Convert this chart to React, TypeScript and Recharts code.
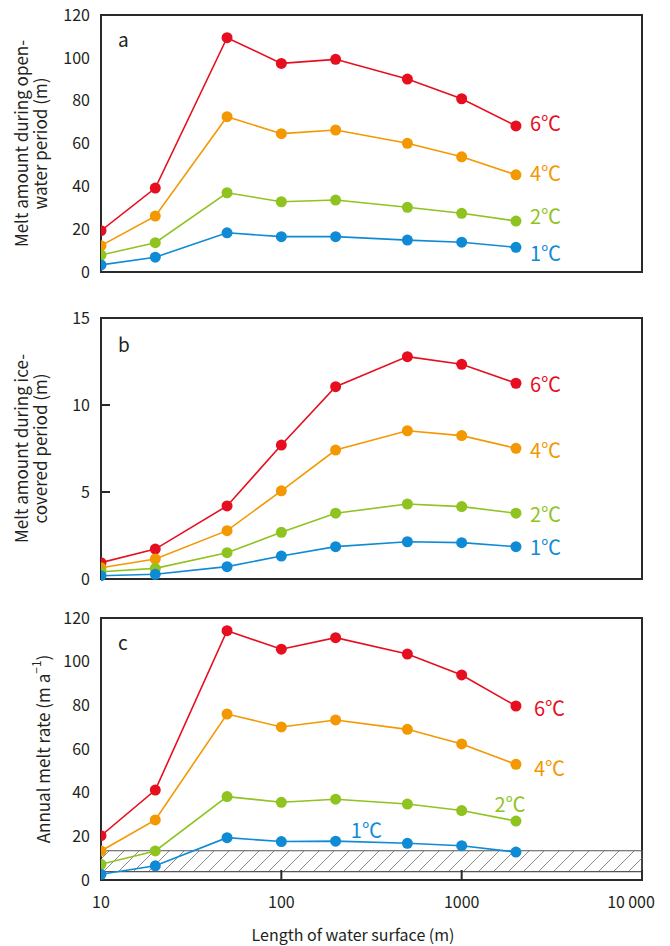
import React from 'react';
import { LineChart, Line, XAxis, YAxis, ReferenceArea, LabelList } from 'recharts';

// ---------- data ----------
const lengths = [10, 20, 50, 100, 200, 500, 1000, 2000];
const xTicks = [10, 100, 1000, 10000];
const xTickLabels = ['10', '100', '1000', '10\u2009000'];
const seriesKeys = ['t6', 't4', 't2', 't1'];
const seriesNames = ['6\u2103', '4\u2103', '2\u2103', '1\u2103'];
const seriesColors = ['#e60f1f', '#f39800', '#8fc31f', '#0f8bd6'];

// (a) melt amount during open-water period (m)
const openWater6 = [19.3, 39.2, 109.4, 97.4, 99.3, 90.1, 80.9, 68.2];
const openWater4 = [12.3, 26.1, 72.5, 64.6, 66.3, 60.1, 53.8, 45.4];
const openWater2 = [7.9, 13.7, 37.0, 32.8, 33.6, 30.2, 27.4, 23.8];
const openWater1 = [3.3, 6.9, 18.3, 16.5, 16.5, 14.9, 13.9, 11.5];

// (b) melt amount during ice-covered period (m)
const iceCovered6 = [0.94, 1.72, 4.2, 7.7, 11.05, 12.78, 12.34, 11.25];
const iceCovered4 = [0.65, 1.15, 2.78, 5.07, 7.41, 8.52, 8.24, 7.51];
const iceCovered2 = [0.42, 0.61, 1.51, 2.68, 3.78, 4.31, 4.16, 3.78];
const iceCovered1 = [0.19, 0.27, 0.71, 1.32, 1.86, 2.14, 2.09, 1.86];

// (c) annual melt rate (m a-1)
const annual6 = [20.3, 41.2, 114.2, 105.7, 111.0, 103.5, 93.9, 79.7];
const annual4 = [13.3, 27.5, 76.0, 70.1, 73.3, 69.0, 62.3, 53.0];
const annual2 = [7.2, 13.3, 38.2, 35.6, 37.0, 34.8, 31.8, 27.0];
const annual1 = [2.6, 6.5, 19.4, 17.6, 17.8, 16.8, 15.7, 12.8];

// hatched band in (c)
const bandLow = 3.8;
const bandHigh = 13.4;

const yTicksA = [0, 20, 40, 60, 80, 100, 120];
const yTicksB = [0, 5, 10, 15];
const yTicksC = [0, 20, 40, 60, 80, 100, 120];

const buildRows = (s6: number[], s4: number[], s2: number[], s1: number[]) =>
  lengths.map((x, i) => ({ x, t6: s6[i], t4: s4[i], t2: s2[i], t1: s1[i] }));

const dataA = buildRows(openWater6, openWater4, openWater2, openWater1);
const dataB = buildRows(iceCovered6, iceCovered4, iceCovered2, iceCovered1);
const dataC = buildRows(annual6, annual4, annual2, annual1);

// ---------- styles ----------
const FONT = '"Noto Sans CJK JP", "Noto Sans", sans-serif';
const INK = '#231f20';
const AXIS = '#2a2a2a';
const W = 670;

type LabelSpec = { index: number; dx: number; dy: number; anchor: string };

const specsA: LabelSpec[] = [
  { index: 7, dx: 14, dy: -3, anchor: 'start' },
  { index: 7, dx: 14, dy: -2, anchor: 'start' },
  { index: 7, dx: 14, dy: -6, anchor: 'start' },
  { index: 7, dx: 14, dy: 5, anchor: 'start' },
];
const specsB: LabelSpec[] = [
  { index: 7, dx: 14, dy: 0, anchor: 'start' },
  { index: 7, dx: 14, dy: 1, anchor: 'start' },
  { index: 7, dx: 14, dy: 0, anchor: 'start' },
  { index: 7, dx: 14, dy: 0, anchor: 'start' },
];
const specsC: LabelSpec[] = [
  { index: 7, dx: 18, dy: 2, anchor: 'start' },
  { index: 7, dx: 18, dy: 3, anchor: 'start' },
  { index: 7, dx: -6, dy: -18, anchor: 'middle' },
  { index: 5, dx: -41, dy: -14, anchor: 'middle' },
];

const makeSeriesLabel = (name: string, color: string, spec: LabelSpec) => (p: any) => {
  if (p.index !== spec.index) return null;
  return (
    <text
      x={Number(p.x) + spec.dx}
      y={Number(p.y) + spec.dy}
      textAnchor={spec.anchor as any}
      dominantBaseline="central"
      fill={color}
      fontSize={20}
      fontFamily={FONT}
    >
      {name}
    </text>
  );
};

const makeYTitle = (lines: string[], xs: number[]) => (p: any) => {
  const vb = p.viewBox || {};
  const cy = vb.y + vb.height / 2;
  return (
    <g>
      {lines.map((l, i) => (
        <text
          key={i}
          x={xs[i]}
          y={cy}
          transform={`rotate(-90 ${xs[i]} ${cy})`}
          textAnchor="middle"
          dominantBaseline="central"
          fontSize={17}
          fill={INK}
          fontFamily={FONT}
        >
          {l}
        </text>
      ))}
    </g>
  );
};

const yTitleC = (p: any) => {
  const vb = p.viewBox || {};
  const cy = vb.y + vb.height / 2;
  const x = 42;
  return (
    <text
      x={x}
      y={cy}
      transform={`rotate(-90 ${x} ${cy})`}
      textAnchor="middle"
      dominantBaseline="central"
      fontSize={17}
      fill={INK}
      fontFamily={FONT}
    >
      Annual melt rate (m a
      <tspan dy={-7} fontSize={12}>{'\u22121'}</tspan>
      <tspan dy={7}>)</tspan>
    </text>
  );
};

const makeLetter = (letter: string, dx: number, dy: number) => (p: any) => {
  const vb = p.viewBox || {};
  return (
    <text x={vb.x + dx} y={vb.y + dy} fontSize={19} fill={INK} fontFamily={FONT}>
      {letter}
    </text>
  );
};

const XTick = (p: any) => {
  const v = p.payload ? p.payload.value : 0;
  const i = xTicks.indexOf(v);
  const shift = i === 3 ? -11 : 0;
  return (
    <text
      x={p.x + shift}
      y={p.y}
      dy="0.71em"
      textAnchor="middle"
      fontSize={16}
      fill={INK}
      fontFamily={FONT}
    >
      {i >= 0 ? xTickLabels[i] : ''}
    </text>
  );
};

const xTitle = (p: any) => {
  const vb = p.viewBox || {};
  return (
    <text
      x={353}
      y={vb.y + 61}
      textAnchor="middle"
      fontSize={16}
      fill={INK}
      fontFamily={FONT}
    >
      Length of water surface (m)
    </text>
  );
};

type PanelProps = {
  data: any[];
  height: number;
  top: number;
  marginTop: number;
  marginBottom: number;
  yMax: number;
  yTicks: number[];
  yTickInward: boolean;
  yTitle: (p: any) => any;
  letter: string;
  letterDy: number;
  specs: LabelSpec[];
  showXLabels: boolean;
  band?: boolean;
};

function Panel(props: PanelProps) {
  const {
    data, height, top, marginTop, marginBottom, yMax, yTicks, yTickInward,
    yTitle, letter, letterDy, specs, showXLabels, band,
  } = props;
  const tickStyle = { fontSize: 16, fill: INK, fontFamily: FONT };
  return (
    <div style={{ position: 'absolute', left: 0, top, width: W, height }}>
      <LineChart
        width={W}
        height={height}
        data={data}
        margin={{ top: marginTop, right: 28, bottom: marginBottom, left: 0 }}
      >
        <defs>
          <pattern id="hatch" patternUnits="userSpaceOnUse" width="15" height="15">
            <path d="M-2,17 L17,-2 M-2,2 L2,-2 M13,17 L17,13" stroke="#8a8a8a" strokeWidth="1" />
          </pattern>
        </defs>
        <XAxis
          dataKey="x"
          type="number"
          scale="log"
          domain={[10, 10000]}
          ticks={xTicks}
          allowDataOverflow
          height={showXLabels ? 66 : 1}
          axisLine={{ stroke: AXIS, strokeWidth: 2 }}
          tickLine={{ stroke: AXIS, strokeWidth: 2 }}
          tickSize={-10}
          tickMargin={27}
          tick={showXLabels ? <XTick /> : false}
          interval={0}
          label={showXLabels ? { content: xTitle } : undefined}
        />
        <YAxis
          type="number"
          domain={[0, yMax]}
          ticks={yTicks}
          width={101}
          axisLine={{ stroke: AXIS, strokeWidth: 2 }}
          tickLine={yTickInward ? { stroke: AXIS, strokeWidth: 2 } : false}
          tickSize={yTickInward ? -9 : 0}
          tickMargin={yTickInward ? 20 : 11}
          tick={tickStyle}
          interval={0}
          label={{ content: yTitle }}
        />
        <ReferenceArea
          x1={10}
          x2={10000}
          y1={0}
          y2={yMax}
          fill="none"
          stroke={AXIS}
          strokeWidth={2}
          fillOpacity={0}
          label={{ content: makeLetter(letter, 17, letterDy) }}
        />
        {band ? (
          <ReferenceArea
            x1={10}
            x2={10000}
            y1={bandLow}
            y2={bandHigh}
            fill="url(#hatch)"
            fillOpacity={1}
            stroke="#555"
            strokeWidth={1.2}
          />
        ) : null}
        {seriesKeys.map((k, i) => (
          <Line
            key={k}
            dataKey={k}
            type="linear"
            stroke={seriesColors[i]}
            strokeWidth={1.6}
            dot={{ r: 5.5, fill: seriesColors[i], stroke: seriesColors[i], strokeWidth: 0 }}
            activeDot={false}
            isAnimationActive={false}
          >
            <LabelList dataKey={k} content={makeSeriesLabel(seriesNames[i], seriesColors[i], specs[i])} />
          </Line>
        ))}
      </LineChart>
    </div>
  );
}

export default function App() {
  return (
    <div style={{ position: 'absolute', left: 0, top: 0, width: W, height: 946, background: '#fff' }}>
      <Panel
        data={dataA}
        height={290}
        top={0}
        marginTop={15}
        marginBottom={17}
        yMax={120}
        yTicks={yTicksA}
        yTickInward={false}
        yTitle={makeYTitle(['Melt amount during open-', 'water period (m)'], [20, 39])}
        letter="a"
        letterDy={32}
        specs={specsA}
        showXLabels={false}
      />
      <Panel
        data={dataB}
        height={300}
        top={295}
        marginTop={23}
        marginBottom={15}
        yMax={15}
        yTicks={yTicksB}
        yTickInward={true}
        yTitle={makeYTitle(['Melt amount during ice-', 'covered period (m)'], [20, 39])}
        letter="b"
        letterDy={34}
        specs={specsB}
        showXLabels={false}
      />
      <Panel
        data={dataC}
        height={346}
        top={600}
        marginTop={18}
        marginBottom={0}
        yMax={120}
        yTicks={yTicksC}
        yTickInward={false}
        yTitle={yTitleC}
        letter="c"
        letterDy={32}
        specs={specsC}
        showXLabels={true}
        band={true}
      />
    </div>
  );
}
